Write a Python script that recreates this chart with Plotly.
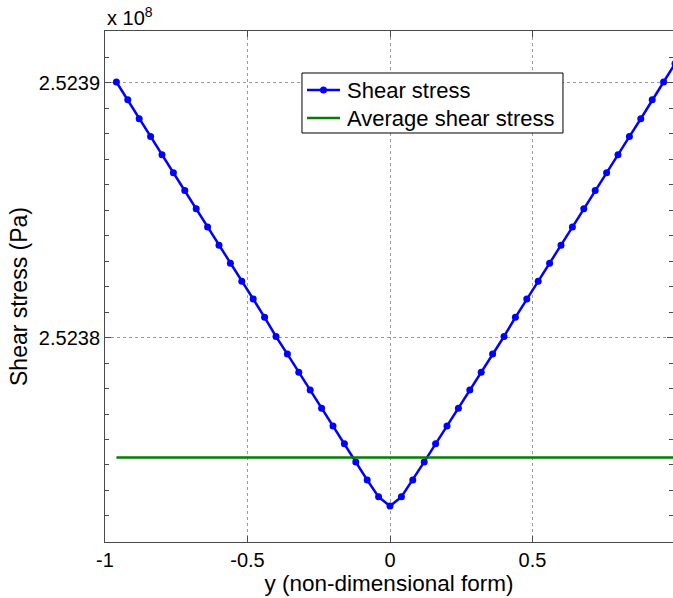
import plotly.graph_objects as go

# Wall-normal coordinate (non-dimensional)
y_pos = [-0.96, -0.92, -0.88, -0.84, -0.80, -0.76, -0.72, -0.68, -0.64, -0.60,
         -0.56, -0.52, -0.48, -0.44, -0.40, -0.36, -0.32, -0.28, -0.24, -0.20,
         -0.16, -0.12, -0.08, -0.04, 0.00, 0.04, 0.08, 0.12, 0.16, 0.20,
         0.24, 0.28, 0.32, 0.36, 0.40, 0.44, 0.48, 0.52, 0.56, 0.60,
         0.64, 0.68, 0.72, 0.76, 0.80, 0.84, 0.88, 0.92, 0.96, 1.00]

# Local shear stress (Pa)
shear = [252390020, 252389320, 252388580, 252387880, 252387170, 252386460,
         252385760, 252385050, 252384330, 252383620, 252382910, 252382210,
         252381510, 252380790, 252380040, 252379350, 252378640, 252377940,
         252377230, 252376530, 252375830, 252375120, 252374410, 252373750,
         252373390, 252373750, 252374410, 252375120, 252375830, 252376530,
         252377230, 252377940, 252378640, 252379350, 252380040, 252380790,
         252381510, 252382210, 252382910, 252383620, 252384330, 252385050,
         252385760, 252386460, 252387170, 252387880, 252388580, 252389320,
         252390020, 252390740]

# Mean shear stress over the section (Pa)
avg_x = [-0.96, 1.00]
avg_shear = 252375290

series_names = ["Shear stress", "Average shear stress"]

SCALE = 1e8
x_ticks = [-1, -0.5, 0, 0.5, 1]
x_tick_text = ["-1", "-0.5", "0", "0.5", "1"]
y_ticks = [2.5238, 2.5239]

FONT = "Liberation Sans, Arial, Helvetica, sans-serif"
AXIS_COLOR = "#4a4a4a"
GRID_COLOR = "#9a9a9a"
BLUE = "rgb(0,0,255)"
GREEN = "rgb(0,128,0)"

fig = go.Figure()
fig.add_trace(go.Scatter(
    x=y_pos, y=[v / SCALE for v in shear],
    mode="lines+markers", name=series_names[0],
    line=dict(color=BLUE, width=2.5),
    marker=dict(color=BLUE, size=7),
))
fig.add_trace(go.Scatter(
    x=avg_x, y=[avg_shear / SCALE] * len(avg_x),
    mode="lines", name=series_names[1],
    line=dict(color=GREEN, width=2.5),
))

fig.update_layout(
    width=673, height=598,
    margin=dict(l=105, r=0, t=31, b=56),
    paper_bgcolor="white", plot_bgcolor="white",
    font=dict(family=FONT, size=20, color="black"),
    showlegend=False,
    xaxis=dict(
        range=[-1, 0.993],
        tickvals=x_ticks, ticktext=x_tick_text,
        ticks="inside", ticklen=6, tickcolor=AXIS_COLOR,
        showline=True, linecolor=AXIS_COLOR, linewidth=1, mirror="ticks",
        showgrid=True, gridcolor=GRID_COLOR, griddash="dot", gridwidth=1,
        zeroline=False,
        tickfont=dict(size=20),
        title=dict(text="y (non-dimensional form)", font=dict(size=22.5), standoff=2),
    ),
    yaxis=dict(
        range=[2.5237198, 2.5239202],
        tickvals=y_ticks, tickformat=".4f",
        ticks="inside", ticklen=6, tickcolor=AXIS_COLOR,
        showline=True, linecolor=AXIS_COLOR, linewidth=1, mirror="ticks",
        showgrid=True, gridcolor=GRID_COLOR, griddash="dot", gridwidth=1,
        zeroline=False,
        tickfont=dict(size=20),
        minor=dict(dtick=0.00001, tick0=2.5238, ticks="inside", ticklen=4,
                   tickcolor=AXIS_COLOR, showgrid=False),
    ),
)

# Y-axis title placed explicitly
fig.add_annotation(
    x=-0.1514, y=0.4795, xref="paper", yref="paper",
    xanchor="center", yanchor="middle", textangle=-90,
    text="Shear stress (Pa)", showarrow=False, font=dict(size=23),
)

# Exponent label of the y axis
fig.add_annotation(
    x=0, y=1, xref="paper", yref="paper", xanchor="left", yanchor="bottom",
    text="x 10<sup>8</sup>", showarrow=False, font=dict(size=20),
)

# Legend box drawn in paper coordinates
box_x0, box_x1 = 0.3468, 0.8063
box_y0, box_y1 = 0.8004, 0.9178
fig.add_shape(type="rect", xref="paper", yref="paper",
              x0=box_x0, x1=box_x1, y0=box_y0, y1=box_y1,
              line=dict(color="black", width=1), fillcolor="white", layer="above")

row_y = [0.8845, 0.8297]
row_colors = [BLUE, GREEN]
sample_x0, sample_x1 = 0.3556, 0.4137
for name, ry, col in zip(series_names, row_y, row_colors):
    fig.add_shape(type="line", xref="paper", yref="paper",
                  x0=sample_x0, x1=sample_x1, y0=ry, y1=ry,
                  line=dict(color=col, width=2.5), layer="above")
    fig.add_annotation(x=0.4225, y=ry, xref="paper", yref="paper",
                       xanchor="left", yanchor="middle", text=name,
                       showarrow=False, font=dict(size=22))

# Marker glyph for the first legend entry
mx = (sample_x0 + sample_x1) / 2
fig.add_shape(type="circle", xref="paper", yref="paper",
              x0=mx - 3.5 / 568, x1=mx + 3.5 / 568,
              y0=row_y[0] - 3.5 / 511, y1=row_y[0] + 3.5 / 511,
              line=dict(color=BLUE, width=0), fillcolor=BLUE, layer="above")

fig.write_html("out.html")
